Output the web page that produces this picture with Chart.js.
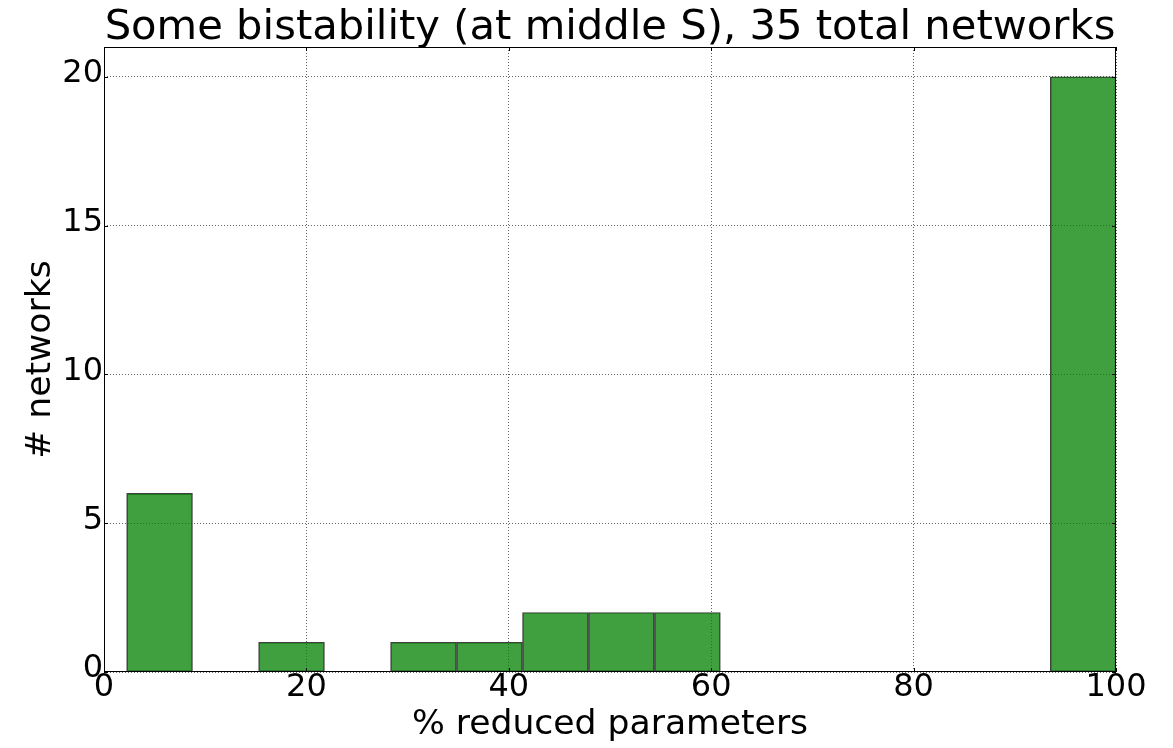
<!DOCTYPE html>
<html>
<head>
<meta charset="utf-8">
<script src="https://cdn.jsdelivr.net/npm/chart.js@4/dist/chart.umd.min.js"></script>
<style>
  html, body { margin: 0; padding: 0; background: #fff; }
  #wrap { width: 1173px; height: 748px; }
</style>
</head>
<body>
<div id="wrap"><canvas id="c" width="1173" height="748"></canvas></div>
<script>
// Histogram of the share of reduced parameters per network
const titleText = 'Some bistability (at middle S), 35 total networks';
const xLabel = '% reduced parameters';
const yLabel = '# networks';
const binEdges = [2.23, 8.75, 15.27, 21.79, 28.31, 34.83, 41.35, 47.87, 54.39, 60.91, 67.43, 73.95, 80.47, 86.99, 93.51, 100];
const counts = [6, 0, 1, 0, 1, 1, 2, 2, 2, 0, 0, 0, 0, 0, 20];
const xTicks = [0, 20, 40, 60, 80, 100];
const yTicks = [0, 5, 10, 15, 20];

const FONT = 'DejaVu Sans';

// one bar per bin, placed at the bin centre on a linear axis
const bars = counts.map((c, i) => ({ x: (binEdges[i] + binEdges[i + 1]) / 2, y: c }));

// axes frame with inward tick marks on all four sides
const framePlugin = {
  id: 'frame',
  afterLayout(chart) {
    // centre the title over the plotting area
    const tb = chart.titleBlock;
    if (tb) { tb.left = chart.chartArea.left; tb.right = chart.chartArea.right; }
  },
  afterDraw(chart) {
    const { ctx, chartArea: a, scales } = chart;
    ctx.save();
    ctx.strokeStyle = '#000';
    ctx.lineWidth = 1;
    ctx.strokeRect(Math.round(a.left) + 0.5, Math.round(a.top) + 0.5,
                   Math.round(a.right - a.left) - 1, Math.round(a.bottom - a.top) - 1);
    const L = 4;
    ctx.beginPath();
    scales.x.ticks.forEach(t => {
      const px = Math.round(scales.x.getPixelForValue(t.value)) + 0.5;
      ctx.moveTo(px, a.bottom); ctx.lineTo(px, a.bottom - L);
      ctx.moveTo(px, a.top); ctx.lineTo(px, a.top + L);
    });
    scales.y.ticks.forEach(t => {
      const py = Math.round(scales.y.getPixelForValue(t.value)) + 0.5;
      ctx.moveTo(a.left, py); ctx.lineTo(a.left + L, py);
      ctx.moveTo(a.right, py); ctx.lineTo(a.right - L, py);
    });
    ctx.stroke();
    ctx.restore();
  }
};

new Chart(document.getElementById('c'), {
  type: 'bar',
  data: {
    datasets: [{
      data: bars,
      backgroundColor: 'rgba(0,128,0,0.75)',
      borderColor: 'rgba(0,0,0,0.75)',
      borderWidth: 1,
      borderSkipped: false,
      barPercentage: 1,
      categoryPercentage: 1
    }]
  },
  options: {
    responsive: false,
    animation: false,
    devicePixelRatio: 1,
    layout: { padding: { left: 0, right: 57, top: 0, bottom: 0 } },
    plugins: {
      legend: { display: false },
      tooltip: { enabled: false },
      title: {
        display: true,
        text: titleText,
        color: '#000',
        font: { family: FONT, size: 41.7, weight: 'normal', lineHeight: 0.897 },
        padding: { top: 9.6, bottom: 0 }
      }
    },
    scales: {
      x: {
        type: 'linear',
        min: 0, max: 100,
        offset: false,
        z: 1,
        afterBuildTicks: s => { s.ticks = xTicks.map(v => ({ value: v })); },
        afterFit: s => { s.height = 76; },
        grid: { offset: false, color: 'rgba(0,0,0,0.6)', lineWidth: 1, drawTicks: false, tickLength: 0 },
        border: { display: false, dash: [1, 2] },
        ticks: {
          color: '#000', padding: 0, maxRotation: 0, autoSkip: false,
          font: { family: FONT, size: 32, lineHeight: 1 }
        },
        title: {
          display: true, text: xLabel, color: '#000',
          font: { family: FONT, size: 34.6, lineHeight: 1.2 },
          padding: { top: 0, bottom: 1.9 }
        }
      },
      y: {
        type: 'linear',
        min: 0, max: 21,
        z: 1,
        afterBuildTicks: s => { s.ticks = yTicks.map(v => ({ value: v })); },
        afterFit: s => { s.width = 104; },
        grid: { color: 'rgba(0,0,0,0.6)', lineWidth: 1, drawTicks: false, tickLength: 0 },
        border: { display: false, dash: [1, 2] },
        ticks: {
          color: '#000', padding: 1, labelOffset: -3,
          font: { family: FONT, size: 32, lineHeight: 1 }
        },
        title: {
          display: true, text: yLabel, color: '#000',
          font: { family: FONT, size: 34.6, lineHeight: 1.2 },
          padding: { top: 20.5, bottom: 0 }
        }
      }
    }
  },
  plugins: [framePlugin]
});
</script>
</body>
</html>
